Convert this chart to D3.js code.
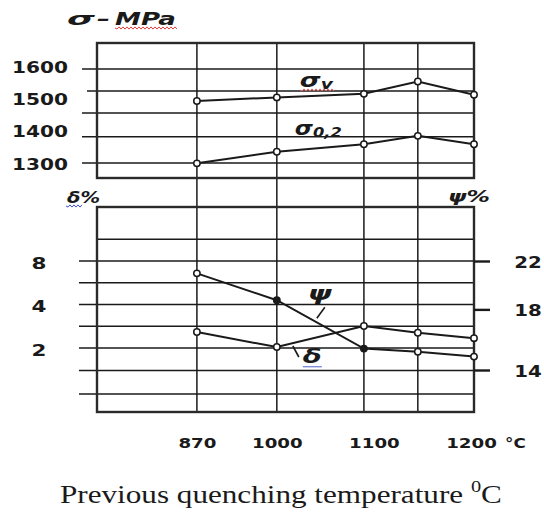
<!DOCTYPE html>
<html><head><meta charset="utf-8">
<script src="https://cdn.jsdelivr.net/npm/d3@7"></script>
<style>body{margin:0;background:#fff} svg{display:block}</style>
</head><body><svg id="c" width="544" height="514"></svg>
<script>
// ---- data ----
const temps = [870, 1000, 1100, 1150, 1200];
const tempLabels = [870, 1000, 1100, 1200];
const sigmaV = [1495, 1506, 1517, 1555, 1514];
const sigma02 = [1302, 1338, 1361, 1387, 1361];
const psi = [20.9, 18.7, 15.3, 15.1, 14.8];
const delta = [2.58, 2.03, 2.84, 2.55, 2.34];
const stressTicks = [1300, 1400, 1500, 1600];
const stressGrid = [1594, 1526, 1458, 1384, 1303];
const deltaTicks = [2, 4, 8];
const deltaGrid = [11.3, 8, 5.66, 4, 2.83, 2, 1.4, 0.96];
const psiTicks = [14, 18, 22];

// ---- layout ----
const svg = d3.select("#c");
const L = 97, R = 474;
const top1 = 43, bot1 = 178, top2 = 207, bot2 = 412;
const ink = "#1a1a1a";
const bold = "'DejaVu Sans', Verdana, sans-serif";

const x = d3.scaleLinear().domain(temps)
  .range([0.265, 0.477, 0.708, 0.851, 1].map(f => L + f * (R - L)));
const yS = d3.scaleLinear().domain([1300, 1600]).range([164, 67]);
const yD = d3.scaleLog().domain([2, 8]).range([348, 261]);
const yP = d3.scaleLog().domain([14, 22]).range([370, 261]);

// grid top panel (with left tick extensions)
svg.append("g").selectAll("line").data(stressGrid).join("line")
  .attr("x1", (d, i) => L - (i === 1 ? 10 : 15)).attr("x2", R)
  .attr("y1", d => yS(d)).attr("y2", d => yS(d))
  .attr("stroke", ink).attr("stroke-width", 1.5);

// grid bottom panel
svg.append("g").selectAll("line").data(deltaGrid).join("line")
  .attr("x1", d => d <= 8 ? L - 18 : L).attr("x2", R)
  .attr("y1", d => yD(d)).attr("y2", d => yD(d))
  .attr("stroke", ink).attr("stroke-width", 1.5);

// vertical grid lines through both panels
svg.append("g").selectAll("line").data(temps.slice(0, -1)).join("line")
  .attr("x1", d => x(d)).attr("x2", d => x(d))
  .attr("y1", top1).attr("y2", bot2)
  .attr("stroke", ink).attr("stroke-width", 1.5);

// frames
[[top1, bot1], [top2, bot2]].forEach(([t, b]) => {
  svg.append("rect").attr("x", L).attr("y", t).attr("width", R - L).attr("height", b - t)
    .attr("fill", "none").attr("stroke", "#2a2a2a").attr("stroke-width", 2.4);
});

// ---- axes ----
const axS = svg.append("g").attr("transform", `translate(${L},0)`)
  .call(d3.axisLeft(yS).tickValues(stressTicks).tickSize(0).tickFormat(d3.format("d")));
axS.select(".domain").remove();
axS.selectAll("text").attr("x", -29 / 1.22).attr("transform", "scale(1.22,1)")
  .attr("font-family", bold).attr("font-weight", "bold").attr("font-size", 16.5).attr("fill", ink);

const axD = svg.append("g").attr("transform", `translate(${L},0)`)
  .call(d3.axisLeft(yD).tickValues(deltaTicks).tickSize(0).tickFormat(d3.format("d")));
axD.select(".domain").remove();
axD.selectAll("text").attr("text-anchor", "middle").attr("x", (39 - L) / 1.3).attr("dy", "0.45em")
  .attr("transform", "scale(1.3,1)")
  .attr("font-family", bold).attr("font-weight", "bold").attr("font-size", 16.5).attr("fill", ink);

const axP = svg.append("g").attr("transform", `translate(${R},0)`)
  .call(d3.axisRight(yP).tickValues(psiTicks).tickSize(16).tickFormat(d3.format("d")));
axP.select(".domain").remove();
axP.selectAll("line").attr("stroke", ink).attr("stroke-width", 2.4);
axP.selectAll("text").attr("text-anchor", "middle").attr("x", (528 - R) / 1.2).attr("dy", "0.38em")
  .attr("transform", "scale(1.2,1)")
  .attr("font-family", bold).attr("font-weight", "bold").attr("font-size", 16.5).attr("fill", ink);

const axX = svg.append("g").attr("transform", `translate(0,437)`)
  .call(d3.axisBottom(x).tickValues(tempLabels).tickSize(0).tickPadding(0).tickFormat(d3.format("d")));
axX.select(".domain").remove();
axX.selectAll("text").each(function (d) {
  const t = d3.select(this);
  t.attr("x", 0).attr("y", 0).attr("dy", "0.76em")
   .attr("transform", `translate(${d === 1100 ? 10 : (d === 1200 ? -3 : 0)},0) scale(1.3,1)`)
   .attr("font-family", bold).attr("font-weight", "bold").attr("font-size", 14).attr("fill", ink);
});
svg.append("text").attr("x", 505).attr("y", 448).text("°C")
  .attr("font-family", bold).attr("font-weight", "bold").attr("font-size", 14).attr("fill", ink)
  .attr("transform", "translate(-101,0) scale(1.2,1)");

// ---- series ----
const line = (ys, vals) => d3.line().x((d, i) => x(temps[i])).y(d => ys(d))(vals);
const series = [[yS, sigmaV], [yS, sigma02], [yP, psi], [yD, delta]];
series.forEach(([ys, vals]) => {
  svg.append("path").attr("d", line(ys, vals)).attr("fill", "none")
    .attr("stroke", ink).attr("stroke-width", 2);
});
series.forEach(([ys, vals], si) => {
  svg.append("g").selectAll("circle").data(vals).join("circle")
    .attr("cx", (d, i) => x(temps[i])).attr("cy", d => ys(d)).attr("r", 3.2)
    .attr("fill", (d, i) => (si === 2 && (i === 1 || i === 2)) ? ink : "#fff")
    .attr("stroke", ink).attr("stroke-width", 1.5);
});

// ---- text helpers ----
function fitText(x0, y0, width, build) {
  const t = svg.append("text").attr("x", 0).attr("y", 0).attr("fill", ink);
  build(t);
  const w = t.node().getComputedTextLength();
  t.attr("transform", `translate(${x0},${y0}) scale(${width / w},1)`);
  return t;
}
function wavy(x0, x1, y, color) {
  let p = `M${x0},${y}`;
  for (let xx = x0, k = 0; xx < x1; xx += 2, k++) p += `L${xx + 2},${y + (k % 2 ? -1.1 : 1.1)}`;
  svg.append("path").attr("d", p).attr("fill", "none").attr("stroke", color).attr("stroke-width", 1);
}
const biText = (s, size) => t => t.attr("font-family", bold).attr("font-weight", "bold")
  .attr("font-style", "italic").attr("font-size", size).text(s);

// title
fitText(67, 25, 28, biText("σ", 18));
fitText(97, 25, 13, biText("–", 17));
fitText(115, 25, 61, biText("MPa", 17));
wavy(115, 176, 28, "#e04040");

// axis captions
fitText(67, 203, 33, biText("δ%", 15));
wavy(66, 81, 206, "#4050e0");
fitText(448, 202, 42, biText("ψ%", 15));

// series labels
fitText(x(1000) + 23, yS(1538), 33, t => {
  t.attr("font-family", bold).attr("font-weight", "bold").attr("font-style", "italic");
  t.append("tspan").attr("font-size", 20).text("σ");
  t.append("tspan").attr("font-size", 14).attr("dy", 2).text("v");
});
wavy(300, 333, 90, "#e06060");
fitText(x(1000) + 18, yS(1390), 47, t => {
  t.attr("font-family", bold).attr("font-weight", "bold").attr("font-style", "italic");
  t.append("tspan").attr("font-size", 20).text("σ");
  t.append("tspan").attr("font-size", 14).attr("dy", 2).text("0,2");
});
fitText(x(1000) + 31, yP(18.7), 24, biText("ψ", 19));
fitText(x(1000) + 26, yD(1.58), 19, biText("δ", 19));
svg.append("line").attr("x1", x(1000) + 16).attr("y1", yD(2.0) - 2)
  .attr("x2", x(1000) + 22).attr("y2", yD(2.0) + 9).attr("stroke", ink).attr("stroke-width", 1.6);
svg.append("line").attr("x1", x(1000) + 48).attr("y1", yP(18.7) + 7)
  .attr("x2", x(1000) + 40).attr("y2", yP(18.7) + 18).attr("stroke", ink).attr("stroke-width", 1.6);
svg.append("line").attr("x1", x(1000) + 26).attr("x2", x(1000) + 45)
  .attr("y1", yD(1.58) + 4).attr("y2", yD(1.58) + 4).attr("stroke", "#5060d0").attr("stroke-width", 1);

// bottom caption
fitText(60, 503, 442, t => {
  t.attr("font-family", "'Liberation Serif', 'Times New Roman', serif").attr("font-size", 26);
  t.append("tspan").text("Previous quenching temperature ");
  t.append("tspan").attr("font-size", 17).attr("dy", -11).text("0");
  t.append("tspan").attr("dy", 11).text("C");
});
</script></body></html>
